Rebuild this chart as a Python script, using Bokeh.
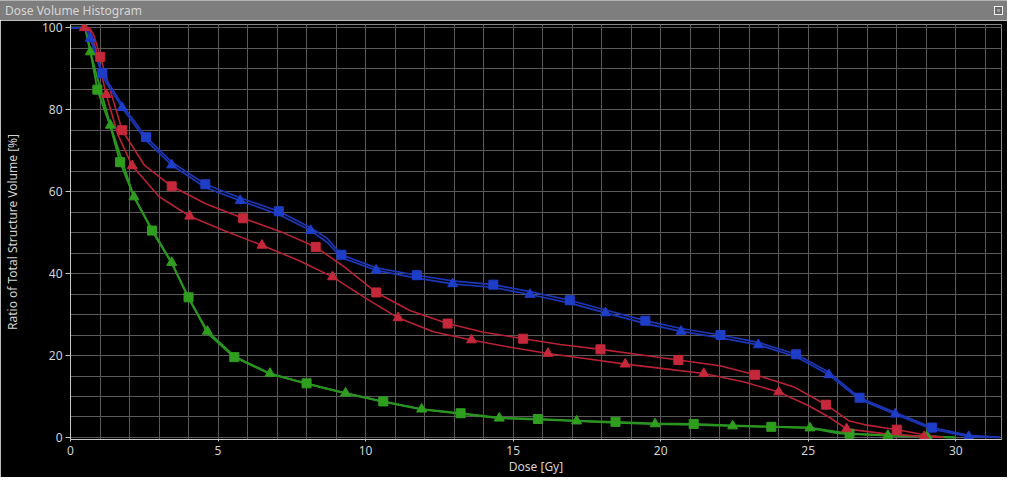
from bokeh.plotting import figure
from bokeh.models import FixedTicker, Div, Range1d
from bokeh.layouts import column
from bokeh.embed import file_html
from bokeh.resources import INLINE

# ---------------- data ----------------
# Blue, square markers
blue_sq_mk_dose = [1.08, 2.56, 4.57, 7.06, 9.18, 11.74, 14.33, 16.92, 19.48, 22.03, 24.59, 26.74, 29.2]
blue_sq_mk_vol = [88.9, 73.3, 61.8, 55.2, 44.6, 39.6, 37.3, 33.5, 28.5, 25.0, 20.3, 9.7, 2.4]
blue_sq_ln_dose = [0, 0.55, 0.75, 1.75, 3.43, 5.75, 8.14, 8.7, 10.36, 12.95, 15.57, 18.13, 20.69, 23.31, 25.7, 27.95, 30.44, 31.5]
blue_sq_ln_vol = [100, 100, 96.5, 81.2, 67.2, 58.5, 51.2, 48.6, 41.4, 38.2, 35.6, 31.1, 26.6, 23.2, 15.9, 6.1, 0.5, 0]

# Blue, triangle markers
blue_tr_mk_dose = [0.67, 1.75, 3.43, 5.75, 8.14, 10.36, 12.95, 15.57, 18.13, 20.69, 23.31, 25.7, 27.95, 30.44]
blue_tr_mk_vol = [97.4, 80.5, 66.5, 57.8, 50.5, 40.8, 37.5, 34.9, 30.4, 25.9, 22.6, 15.3, 5.7, 0.2]
blue_tr_ln_dose = [0, 0.5, 1.08, 2.56, 4.57, 7.06, 8.7, 9.18, 11.74, 14.33, 16.92, 19.48, 22.03, 24.59, 26.74, 29.2, 31.5]
blue_tr_ln_vol = [100, 100, 88.1, 72.5, 61.0, 54.4, 47.6, 43.9, 38.9, 36.6, 32.8, 27.8, 24.3, 19.7, 9.3, 2.0, 0]

# Red, square markers
red_sq_mk_dose = [1.01, 1.75, 3.43, 5.85, 8.31, 10.36, 12.78, 15.34, 17.96, 20.6, 23.2, 25.6, 28.0]
red_sq_mk_vol = [92.9, 75.0, 61.3, 53.5, 46.5, 35.4, 27.8, 24.1, 21.5, 18.9, 15.3, 8.0, 1.9]
red_sq_ln_dose = [0, 0.65, 0.8, 2.5, 4.6, 7.1, 9.3, 11.5, 14.0, 16.6, 19.3, 22.0, 24.5, 26.4, 27.0, 29.0, 29.6]
red_sq_ln_vol = [100, 100, 98, 66.5, 57.0, 50.3, 41.5, 31.0, 25.7, 22.7, 20.2, 17.5, 12.4, 4.0, 3.0, 0.6, 0]

# Red, triangle markers
red_tr_mk_dose = [0.47, 1.21, 2.09, 4.04, 6.49, 8.88, 11.1, 13.59, 16.18, 18.8, 21.46, 24.0, 26.3, 28.93]
red_tr_mk_vol = [100.0, 83.7, 66.3, 54.0, 46.9, 39.2, 29.2, 23.8, 20.5, 17.9, 15.6, 11.1, 2.1, 0.2]
red_tr_ln_dose = [0, 0.65, 0.85, 1.6, 3.0, 5.2, 7.7, 10.0, 12.3, 14.9, 17.5, 20.1, 22.8, 25.0, 25.7, 27.5, 29.5]
red_tr_ln_vol = [100, 99.5, 95, 74, 58.8, 50.5, 43.3, 34.0, 25.8, 22.0, 19.2, 16.8, 13.6, 7.8, 5.0, 1.0, 0]

# Green, triangle markers
green_tr_mk_dose = [0.67, 1.35, 2.15, 3.43, 4.64, 6.76, 9.32, 11.9, 14.53, 17.15, 19.81, 22.44, 25.06, 27.7, 29.03]
green_tr_mk_vol = [94.1, 76.2, 58.7, 42.7, 25.9, 15.6, 10.8, 6.9, 4.7, 4.0, 3.3, 2.8, 2.3, 0.5, 0.3]
green_tr_ln_dose = [0, 0.5, 2.8, 4.0, 5.55, 8.0, 10.6, 13.2, 15.84, 18.47, 21.12, 23.75, 26.0, 30.0]
green_tr_ln_vol = [100, 100, 50.3, 34.0, 19.8, 13.1, 8.7, 5.8, 4.4, 3.6, 3.1, 2.6, 1.0, 0]

# Green, square markers
green_sq_mk_dose = [0.91, 1.68, 2.76, 4.0, 5.55, 8.0, 10.6, 13.22, 15.84, 18.47, 21.12, 23.75, 26.4]
green_sq_mk_vol = [84.9, 67.2, 50.5, 34.2, 19.6, 13.2, 8.8, 5.9, 4.5, 3.8, 3.3, 2.6, 0.9]
green_sq_ln_dose = [0, 0.5, 0.67, 1.35, 2.15, 3.43, 4.64, 6.76, 9.32, 11.9, 14.53, 17.15, 19.81, 22.44, 25.06, 28.0, 30.0]
green_sq_ln_vol = [100, 100, 94.5, 76.0, 58.8, 42.5, 25.5, 15.5, 10.8, 6.9, 4.8, 4.1, 3.4, 2.9, 2.4, 0.4, 0]

x_major = [0, 5, 10, 15, 20, 25, 30]
x_minor = list(range(0, 32))
y_major = [0, 20, 40, 60, 80, 100]
y_minor = list(range(0, 101, 5))

TITLE = "Dose Volume Histogram"
X_LABEL = "Dose [Gy]"
Y_LABEL = "Ratio of Total Structure Volume [%]"

# ---------------- styling ----------------
BLUE = "#1e3ec8"
BLUE_LINE = "#1c36b8"
RED = "#c4283a"
RED_LINE = "#b82234"
GREEN = "#2f9e1f"
GREEN_LINE = "#2a9420"
GRID = "#5a5a5a"
AXIS = "#c8c8c8"
TEXT = "#d2d2d2"
FONT = "Noto Sans"


def merged(mk_x, mk_y, ln_x, ln_y):
    pts = sorted(zip(list(mk_x) + list(ln_x), list(mk_y) + list(ln_y)), key=lambda t: t[0])
    return [a for a, _ in pts], [b for _, b in pts]


p = figure(width=1007, height=457,
           x_range=Range1d(0, 31.55), y_range=Range1d(-0.5, 100.8),
           output_backend="svg", toolbar_location=None,
           background_fill_color="black", border_fill_color="black",
           min_border_left=60, min_border_right=6, min_border_top=4, min_border_bottom=30)

p.outline_line_color = "#8a8a8a"

p.xaxis.ticker = FixedTicker(ticks=x_major, minor_ticks=x_minor)
p.yaxis.ticker = FixedTicker(ticks=y_major, minor_ticks=y_minor)

for g in (p.xgrid, p.ygrid):
    g.grid_line_color = GRID
    g.minor_grid_line_color = GRID
    g.grid_line_width = 1
    g.minor_grid_line_width = 1

for ax in (p.xaxis, p.yaxis):
    ax.axis_line_color = AXIS
    ax.major_tick_line_color = AXIS
    ax.minor_tick_out = 0
    ax.minor_tick_in = 0
    ax.major_tick_in = 0
    ax.major_label_text_color = TEXT
    ax.major_label_text_font = FONT
    ax.major_label_text_font_size = "12px"
    ax.axis_label_text_color = TEXT
    ax.axis_label_text_font = FONT
    ax.axis_label_text_font_size = "12px"
    ax.axis_label_text_font_style = "normal"

p.xaxis.major_tick_out = 2
p.xaxis.major_label_standoff = 4
p.xaxis.axis_label_standoff = 0
p.yaxis.major_tick_out = 5
p.yaxis.major_label_standoff = 3
p.yaxis.axis_label_standoff = 18
p.xaxis.axis_label = X_LABEL
p.yaxis.axis_label = Y_LABEL

curves = [
    (green_sq_mk_dose, green_sq_mk_vol, green_sq_ln_dose, green_sq_ln_vol, GREEN, GREEN_LINE, "square", 2.0),
    (green_tr_mk_dose, green_tr_mk_vol, green_tr_ln_dose, green_tr_ln_vol, GREEN, GREEN_LINE, "triangle", 2.0),
    (red_sq_mk_dose, red_sq_mk_vol, red_sq_ln_dose, red_sq_ln_vol, RED, RED_LINE, "square", 1.6),
    (red_tr_mk_dose, red_tr_mk_vol, red_tr_ln_dose, red_tr_ln_vol, RED, RED_LINE, "triangle", 1.6),
    (blue_tr_mk_dose, blue_tr_mk_vol, blue_tr_ln_dose, blue_tr_ln_vol, BLUE, BLUE_LINE, "triangle", 1.7),
    (blue_sq_mk_dose, blue_sq_mk_vol, blue_sq_ln_dose, blue_sq_ln_vol, BLUE, BLUE_LINE, "square", 1.7),
]

for mx, my, lx, ly, col, lcol, mk, lw in curves:
    xs, ys = merged(mx, my, lx, ly)
    p.line(xs, ys, line_color=lcol, line_width=lw, line_join="round")

for mx, my, lx, ly, col, lcol, mk, lw in curves:
    size = 9 if mk == "square" else 10
    p.scatter(mx, my, marker=mk, size=size, fill_color=col, line_color=col, line_width=1)

title_html = (
    '<div style="display:flex;justify-content:space-between;align-items:center;'
    'height:20px;width:1007px;box-sizing:border-box;padding:0 4px 0 5px;'
    'border-top:1px solid #b4b4b4;">'
    '<span style="color:#d6d6d6;font-family:\'Noto Sans\';font-size:12px;">' + TITLE + '</span>'
    '<span style="display:inline-block;width:9px;height:9px;border:1px solid #f0f0f0;'
    'background:#9a9a9a;box-shadow:inset 0 0 0 2px #6a6a6a;"></span>'
    '</div>'
)
title_bar = Div(text=title_html, width=1007, height=20, margin=0,
                styles={"background-color": "#7e7e7e", "overflow": "hidden"})

layout = column(title_bar, p, spacing=0)

open("out.html", "w").write(file_html(layout, INLINE))
